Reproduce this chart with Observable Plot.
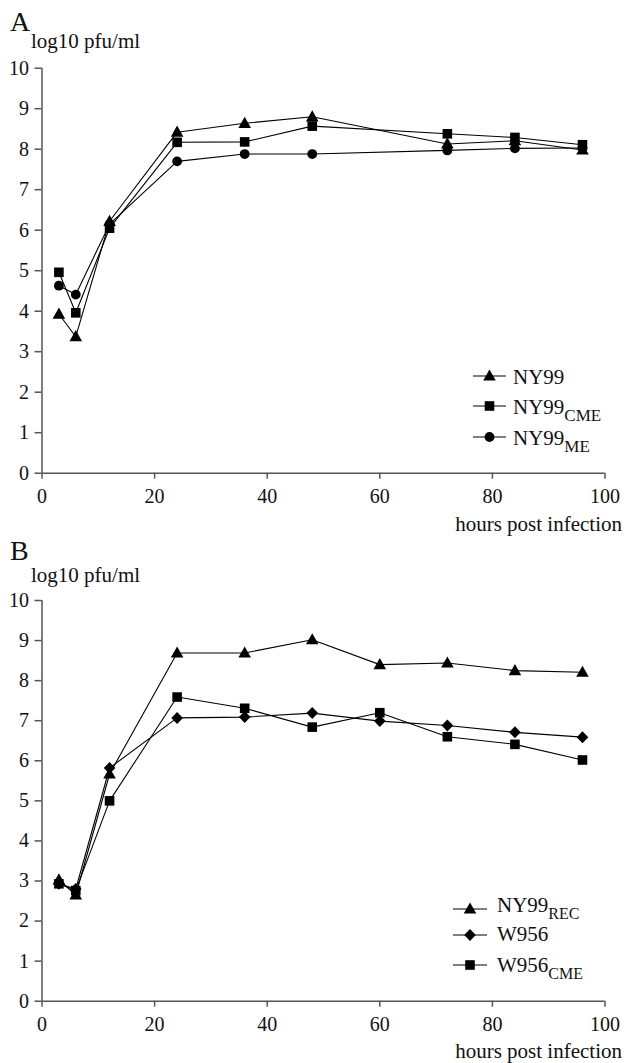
<!DOCTYPE html>
<html><head><meta charset="utf-8">
<script src="https://cdn.jsdelivr.net/npm/d3@7"></script>
<script src="https://cdn.jsdelivr.net/npm/@observablehq/plot@0.6"></script>
<style>
body{margin:0;background:#fff;}
#fig{position:relative;width:627px;height:1063px;font-family:'Liberation Serif','DejaVu Serif',serif;color:#111;}
#fig svg{position:absolute;left:0;}
#fig svg text{font-family:'Liberation Serif','DejaVu Serif',serif;}
</style></head><body><div id="fig"></div>
<script>
// ---- Panel A data ----
const hoursA = [3, 6, 12, 24, 36, 48, 72, 84, 96];
const ny99    = [3.93, 3.37, 6.22, 8.42, 8.64, 8.80, 8.13, 8.21, 7.98];
const ny99CME = [4.96, 3.96, 6.05, 8.17, 8.18, 8.57, 8.38, 8.29, 8.11];
const ny99ME  = [4.63, 4.41, 6.15, 7.70, 7.88, 7.88, 7.97, 8.02, 8.03];
// ---- Panel B data ----
const hoursB = [3, 6, 12, 24, 36, 48, 60, 72, 84, 96];
const ny99REC = [3.03, 2.65, 5.67, 8.69, 8.69, 9.02, 8.40, 8.44, 8.25, 8.21];
const w956    = [2.93, 2.80, 5.82, 7.07, 7.09, 7.19, 6.99, 6.88, 6.71, 6.59];
const w956CME = [2.93, 2.76, 5.00, 7.59, 7.31, 6.84, 7.20, 6.60, 6.41, 6.02];
// ---- ticks / labels ----
const xTicks = [0, 20, 40, 60, 80, 100];
const yTicks = [0, 1, 2, 3, 4, 5, 6, 7, 8, 9, 10];
const yLabel = "log10 pfu/ml";
const xLabel = "hours post infection";
const seriesA = [["NY99", ""], ["NY99", "CME"], ["NY99", "ME"]];
const seriesB = [["NY99", "REC"], ["W956", ""], ["W956", "CME"]];

const FONT = "'Liberation Serif','DejaVu Serif',serif";

// custom symbols
const triangle = {draw(c){ c.moveTo(0,-6.6); c.lineTo(6.3,4.6); c.lineTo(-6.3,4.6); c.closePath(); }};
const square   = {draw(c){ c.rect(-4.8,-4.8,9.6,9.6); }};
const circle   = {draw(c){ c.moveTo(4.9,0); c.arc(0,0,4.9,0,2*Math.PI); }};
const diamond  = {draw(c){ c.moveTo(0,-6); c.lineTo(5.8,0); c.lineTo(0,6); c.lineTo(-5.8,0); c.closePath(); }};

function rows(hours, vals, name){ return hours.map((h,i)=>({hours:h, value:vals[i], series:name})); }

const axisColor = "#555";
function panel(seriesList, height, mt, mb){
  const all = seriesList.flatMap(s => s.data);
  return Plot.plot({
    width: 627, height, marginTop: mt, marginBottom: mb, marginLeft: 41.5, marginRight: 22.5,
    x: {domain: [0, 100]},
    y: {domain: [0, 10]},
    style: {fontFamily: FONT, fontSize: "20px", background: "transparent", color: "#111", overflow: "visible"},
    marks: [
      Plot.axisX({ticks: xTicks, tickSize: 6, tickPadding: 10, stroke: axisColor, strokeWidth: 1.5, fill: "#111", label: null}),
      Plot.axisY({ticks: yTicks, tickSize: 7, tickPadding: 6, stroke: axisColor, strokeWidth: 1.5, fill: "#111", label: null}),
      Plot.ruleY([0], {stroke: axisColor, strokeWidth: 1.5}),
      Plot.ruleX([0], {stroke: axisColor, strokeWidth: 1.5}),
      Plot.line(all, {x: "hours", y: "value", z: "series", stroke: "#000", strokeWidth: 1.1}),
      ...seriesList.map(s => Plot.dot(s.data, {x: "hours", y: "value", symbol: s.symbol, r: 5, fill: "#000", stroke: "none"}))
    ]
  });
}

const fig = document.getElementById("fig");
const svgA = panel([
  {data: rows(hoursA, ny99ME, "NY99ME"), symbol: circle},
  {data: rows(hoursA, ny99CME, "NY99CME"), symbol: square},
  {data: rows(hoursA, ny99, "NY99"), symbol: triangle}
], 540, 67.7, 67.3);
svgA.style.top = "0px";
fig.appendChild(svgA);

const svgB = panel([
  {data: rows(hoursB, w956, "W956"), symbol: diamond},
  {data: rows(hoursB, w956CME, "W956CME"), symbol: square},
  {data: rows(hoursB, ny99REC, "NY99REC"), symbol: triangle}
], 523, 60, 62.3);
svgB.style.top = "540px";
fig.appendChild(svgB);

// ---- overlay: panel letters, axis titles, legends ----
const ov = d3.create("svg").attr("width", 627).attr("height", 1063)
  .style("top", "0px").attr("font-family", FONT).style("fill", "#111");
function txt(x, y, s, size, anchor){ ov.append("text").attr("x", x).attr("y", y).attr("font-size", size).attr("text-anchor", anchor || "start").text(s); }
txt(10, 30.5, "A", 28);
txt(31, 48, yLabel, 21);
txt(622, 531, xLabel, 21, "end");
txt(10, 560, "B", 28);
txt(31, 581.5, yLabel, 21);
txt(622, 1058, xLabel, 21, "end");

function legend(items, symbols, ys, bases, x0, x1, tx, subSize){
  items.forEach((it, i) => {
    const y = ys[i];
    ov.append("line").attr("x1", x0).attr("x2", x1).attr("y1", y).attr("y2", y).attr("stroke", "#000").attr("stroke-width", 1.1);
    ov.append("path").attr("d", d3.symbol(symbols[i])()).attr("transform", `translate(${(x0+x1)/2},${y})`).attr("fill", "#000");
    const t = ov.append("text").attr("x", tx).attr("y", bases[i]).attr("font-size", 21);
    t.append("tspan").text(it[0]);
    if (it[1]) t.append("tspan").attr("font-size", subSize).attr("dy", 7).text(it[1]);
  });
}
legend(seriesA, [triangle, square, circle], [376, 406, 437], [383.5, 413.5, 444.5], 473, 506, 513, 17);
legend(seriesB, [triangle, diamond, square], [909, 935, 965], [912, 940.5, 971.5], 453, 487, 497, 16);
fig.appendChild(ov.node());
</script></body></html>
